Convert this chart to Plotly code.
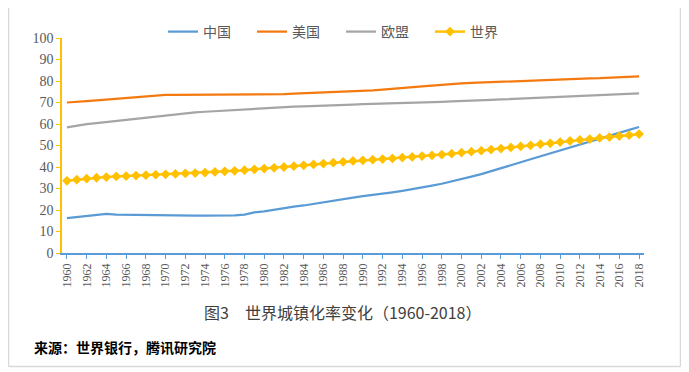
import plotly.graph_objects as go

years = list(range(1960, 2019))

china = [16.2, 16.7, 17.2, 17.7, 18.2, 17.9, 17.8, 17.8, 17.8, 17.6,
         17.4, 17.4, 17.4, 17.4, 17.4, 17.4, 17.4, 17.5, 17.9, 18.9,
         19.4, 20.2, 21.1, 21.6, 22.1, 22.9, 23.5, 24.3, 25.0, 25.8,
         26.4, 26.9, 27.5, 28.2, 28.9, 29.6, 30.4, 31.3, 32.2, 33.2,
         34.2, 35.5, 36.7, 38.0, 39.4, 40.8, 42.2, 43.6, 45.0, 46.2,
         47.6, 49.1, 50.5, 51.9, 53.3, 54.7, 56.0, 57.3, 58.6]

usa = [70.0, 70.2, 70.6, 71.0, 71.4, 71.7, 72.0, 72.3, 72.7, 73.1,
       73.5, 73.6, 73.6, 73.6, 73.6, 73.6, 73.7, 73.7, 73.7, 73.7,
       73.7, 73.8, 73.9, 74.1, 74.3, 74.5, 74.7, 74.8, 74.9, 75.0,
       75.3, 75.6, 76.0, 76.3, 76.7, 77.1, 77.5, 77.9, 78.3, 78.6,
       78.9, 79.1, 79.3, 79.5, 79.7, 79.9, 80.1, 80.2, 80.4, 80.5,
       80.7, 80.9, 81.0, 81.2, 81.3, 81.5, 81.7, 81.9, 82.1]

eu = [58.4, 59.3, 59.9, 60.4, 60.9, 61.5, 62.1, 62.6, 63.1, 63.6,
      64.1, 64.6, 65.0, 65.4, 65.7, 66.0, 66.3, 66.6, 66.9, 67.2,
      67.5, 67.7, 67.9, 68.1, 68.2, 68.3, 68.5, 68.7, 68.9, 69.0,
      69.2, 69.3, 69.4, 69.6, 69.7, 69.9, 70.0, 70.2, 70.3, 70.5,
      70.6, 70.8, 71.0, 71.2, 71.4, 71.6, 71.8, 72.0, 72.2, 72.4,
      72.6, 72.8, 73.0, 73.2, 73.4, 73.6, 73.8, 74.0, 74.2]

world = [33.6, 34.1, 34.6, 35.0, 35.3, 35.6, 35.8, 36.0, 36.2, 36.4,
         36.6, 36.8, 37.0, 37.2, 37.4, 37.7, 38.0, 38.2, 38.5, 38.9,
         39.3, 39.6, 40.0, 40.4, 40.8, 41.2, 41.6, 42.0, 42.4, 42.8,
         43.1, 43.4, 43.7, 44.0, 44.4, 44.7, 45.1, 45.4, 45.8, 46.2,
         46.7, 47.1, 47.6, 48.1, 48.6, 49.1, 49.6, 50.1, 50.6, 51.0,
         51.6, 52.1, 52.6, 53.0, 53.5, 53.9, 54.4, 54.8, 55.3]

series_names = ["中国", "美国", "欧盟", "世界"]
colors = ["#5B9BD5", "#F47A10", "#A5A5A5", "#FFC000"]
xtick_labels = [str(y) for y in range(1960, 2019, 2)]
ytick_vals = list(range(0, 101, 10))

title_text = "图3　世界城镇化率变化（1960-2018）"
source_text = "来源：世界银行，腾讯研究院"

# page body has an 8px margin: work in reference-screen coordinates, shifted
OFF = 8
W, H = 689 - OFF, 372 - OFF
L, R, T, B = 62 - OFF, 644 - OFF, 38 - OFF, 253 - OFF
PW, PH = R - L, B - T

def px(x):
    return (x - OFF - L) / PW

def py(y):
    return (B - (y - OFF)) / PH

fig = go.Figure()
for name, vals, col in zip(series_names, [china, usa, eu, world], colors):
    if name == "世界":
        fig.add_trace(go.Scatter(x=years, y=vals, name=name, mode="lines+markers",
                                 line=dict(color=col, width=2.5),
                                 marker=dict(symbol="diamond", size=7.5, color=col)))
    else:
        fig.add_trace(go.Scatter(x=years, y=vals, name=name, mode="lines",
                                 line=dict(color=col, width=2.25)))

serif = "Liberation Serif, Times New Roman, serif"

fig.update_layout(
    width=W, height=H,
    margin=dict(l=L, r=W - R, t=T, b=H - B, autoexpand=False),
    paper_bgcolor="white", plot_bgcolor="white",
    showlegend=True,
    legend=dict(orientation="h", x=px(163), xanchor="left", y=py(32),
                yanchor="middle",
                font=dict(family="Noto Sans CJK SC", size=14, color="#595959"),
                entrywidth=44, entrywidthmode="pixels",
                itemwidth=30, bgcolor="rgba(0,0,0,0)"),
    xaxis=dict(range=[1959.5, 2018.5], tickmode="array",
               tickvals=list(range(1960, 2019, 2)), ticktext=xtick_labels,
               tickangle=-90, showgrid=False, zeroline=False,
               showline=True, linecolor="#5B9BD5", linewidth=1.5,
               ticks="outside", ticklen=4, tickcolor="#5B9BD5",
               tickfont=dict(family=serif, size=12, color="#595959")),
    yaxis=dict(range=[0, 100], tickvals=ytick_vals, showgrid=False, zeroline=False,
               showline=True, linecolor="#FFC000", linewidth=1.5,
               ticks="outside", ticklen=4, tickcolor="#FFC000",
               tickfont=dict(family=serif, size=14, color="#595959")),
)

fig.add_annotation(text=title_text, xref="paper", yref="paper",
                   x=px(342), y=py(312),
                   showarrow=False, xanchor="center", yanchor="middle",
                   font=dict(family="Noto Sans CJK SC", size=16, color="#404040"))
fig.add_annotation(text="<b>" + source_text + "</b>", xref="paper", yref="paper",
                   x=px(32), y=py(347),
                   showarrow=False, xanchor="left", yanchor="middle",
                   font=dict(family="Noto Sans CJK SC", size=14, color="#000000"))

# outer frame
for (x0, y0, x1, y1) in [(8.5, 0, 8.5, 366.5), (680.5, 0, 680.5, 366.5), (8.5, 366.5, 680.5, 366.5)]:
    fig.add_shape(type="line", xref="paper", yref="paper",
                  x0=px(x0), x1=px(x1), y0=py(y0), y1=py(y1),
                  line=dict(color="#D9D9D9", width=1.5))

fig.write_html("out.html")
